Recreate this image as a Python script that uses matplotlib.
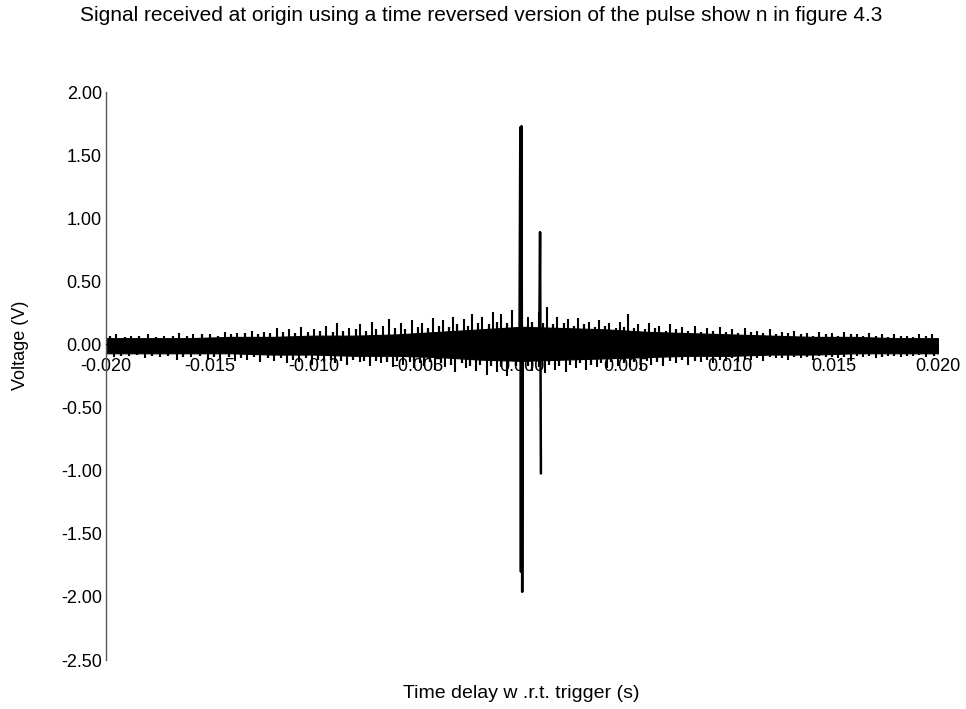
import numpy as np
import matplotlib.pyplot as plt

plt.rcParams['font.family'] = ['Liberation Sans', 'DejaVu Sans']

# dense part of the noise trace (V), sampled every 2 ms
band_t = [-0.020, -0.018, -0.016, -0.014, -0.012, -0.010, -0.008, -0.006, -0.004, -0.002, 0.000,
          0.002, 0.004, 0.006, 0.008, 0.010, 0.012, 0.014, 0.016, 0.018, 0.020]
band_hi = [0.05, 0.05, 0.05, 0.06, 0.06, 0.07, 0.07, 0.08, 0.10, 0.12, 0.14,
           0.13, 0.12, 0.10, 0.09, 0.08, 0.07, 0.06, 0.06, 0.05, 0.05]
band_lo = [-0.07, -0.07, -0.07, -0.07, -0.08, -0.08, -0.09, -0.09, -0.10, -0.12, -0.13,
           -0.12, -0.11, -0.10, -0.09, -0.09, -0.08, -0.08, -0.07, -0.07, -0.07]

# tall noise peaks sticking out of the band
peak_up_t = [-0.0195, -0.0188, -0.0180, -0.0172, -0.0165, -0.0158, -0.0150, -0.0143, -0.0137, -0.0130,
             -0.0124, -0.0118, -0.0112, -0.0106, -0.0100, -0.0094, -0.0089, -0.0083, -0.0078, -0.0072,
             -0.0067, -0.0064, -0.0058, -0.0053, -0.0048, -0.0043, -0.0038, -0.0033, -0.0028, -0.0024,
             -0.0019, -0.0014, -0.0010, -0.0005, 0.0003, 0.0008, 0.0012, 0.0017, 0.0022, 0.0027,
             0.0032, 0.0037, 0.0042, 0.0047, 0.0051, 0.0056, 0.0061, 0.0066, 0.0071, 0.0077,
             0.0083, 0.0089, 0.0095, 0.0101, 0.0107, 0.0113, 0.0119, 0.0125, 0.0131, 0.0137,
             0.0143, 0.0149, 0.0155, 0.0161, 0.0167, 0.0173, 0.0179, 0.0185, 0.0191, 0.0197]
peak_up_v = [0.08, 0.07, 0.08, 0.07, 0.09, 0.08, 0.08, 0.10, 0.09, 0.11,
             0.10, 0.13, 0.12, 0.14, 0.12, 0.15, 0.17, 0.13, 0.16, 0.18,
             0.15, 0.20, 0.17, 0.19, 0.17, 0.21, 0.19, 0.22, 0.20, 0.24,
             0.22, 0.26, 0.24, 0.27, 0.22, 0.26, 0.30, 0.22, 0.20, 0.21,
             0.18, 0.19, 0.17, 0.18, 0.24, 0.16, 0.17, 0.15, 0.16, 0.14,
             0.15, 0.13, 0.14, 0.12, 0.13, 0.11, 0.12, 0.10, 0.11, 0.09,
             0.10, 0.09, 0.10, 0.08, 0.09, 0.08, 0.08, 0.07, 0.08, 0.08]
peak_dn_t = [-0.0196, -0.0189, -0.0181, -0.0174, -0.0166, -0.0159, -0.0151, -0.0145, -0.0138, -0.0132,
             -0.0126, -0.0119, -0.0113, -0.0107, -0.0101, -0.0095, -0.0090, -0.0084, -0.0078, -0.0073,
             -0.0068, -0.0062, -0.0057, -0.0052, -0.0047, -0.0042, -0.0037, -0.0032, -0.0027, -0.0022,
             -0.0017, -0.0012, -0.0007, 0.0005, 0.0011, 0.0016, 0.0021, 0.0026, 0.0031, 0.0036,
             0.0041, 0.0046, 0.0052, 0.0057, 0.0062, 0.0068, 0.0074, 0.0080, 0.0086, 0.0092,
             0.0098, 0.0104, 0.0110, 0.0116, 0.0122, 0.0128, 0.0134, 0.0140, 0.0146, 0.0152,
             0.0158, 0.0164, 0.0170, 0.0176, 0.0182, 0.0188, 0.0194]
peak_dn_v = [-0.10, -0.09, -0.11, -0.10, -0.12, -0.10, -0.12, -0.11, -0.13, -0.12,
             -0.14, -0.13, -0.15, -0.14, -0.16, -0.14, -0.15, -0.16, -0.14, -0.17,
             -0.15, -0.18, -0.16, -0.19, -0.17, -0.20, -0.18, -0.22, -0.19, -0.21,
             -0.24, -0.22, -0.25, -0.21, -0.23, -0.20, -0.22, -0.19, -0.20, -0.18,
             -0.19, -0.17, -0.18, -0.20, -0.16, -0.17, -0.15, -0.16, -0.14, -0.15,
             -0.13, -0.14, -0.12, -0.13, -0.11, -0.12, -0.11, -0.12, -0.10, -0.11,
             -0.13, -0.10, -0.11, -0.09, -0.10, -0.09, -0.10]

# shorter peaks that roughen the edge of the band
ripple_up_t = [-0.0198, -0.0191, -0.0184, -0.0176, -0.0168, -0.0161, -0.0154, -0.0146, -0.0140, -0.0133,
               -0.0127, -0.0121, -0.0115, -0.0109, -0.0103, -0.0097, -0.0091, -0.0086, -0.0080, -0.0075,
               -0.0070, -0.0061, -0.0056, -0.0050, -0.0045, -0.0040, -0.0035, -0.0031, -0.0026, -0.0021,
               -0.0016, -0.0012, -0.0007, 0.0005, 0.0010, 0.0015, 0.0020, 0.0025, 0.0030, 0.0035,
               0.0040, 0.0045, 0.0049, 0.0054, 0.0059, 0.0064, 0.0069, 0.0074, 0.0080, 0.0086,
               0.0092, 0.0098, 0.0104, 0.0110, 0.0116, 0.0122, 0.0128, 0.0134, 0.0140, 0.0146,
               0.0152, 0.0158, 0.0164, 0.0170, 0.0176, 0.0182, 0.0188, 0.0194]
ripple_up_v = [0.07, 0.06, 0.07, 0.06, 0.07, 0.07, 0.08, 0.07, 0.08, 0.09,
               0.08, 0.09, 0.10, 0.09, 0.10, 0.11, 0.10, 0.11, 0.12, 0.11,
               0.12, 0.13, 0.12, 0.14, 0.13, 0.15, 0.14, 0.16, 0.15, 0.17,
               0.16, 0.18, 0.17, 0.18, 0.17, 0.16, 0.17, 0.15, 0.16, 0.14,
               0.15, 0.13, 0.14, 0.13, 0.12, 0.13, 0.11, 0.12, 0.11, 0.10,
               0.11, 0.10, 0.09, 0.10, 0.09, 0.08, 0.09, 0.08, 0.07, 0.08,
               0.07, 0.08, 0.07, 0.07, 0.06, 0.07, 0.06, 0.07]
ripple_dn_t = [-0.0193, -0.0185, -0.0178, -0.0170, -0.0163, -0.0155, -0.0148, -0.0141, -0.0135, -0.0129,
               -0.0122, -0.0116, -0.0110, -0.0104, -0.0098, -0.0092, -0.0087, -0.0081, -0.0076, -0.0070,
               -0.0065, -0.0060, -0.0054, -0.0049, -0.0044, -0.0039, -0.0034, -0.0029, -0.0025, -0.0020,
               -0.0015, -0.0010, -0.0003, 0.0003, 0.0008, 0.0013, 0.0018, 0.0023, 0.0028, 0.0033,
               0.0038, 0.0043, 0.0049, 0.0054, 0.0060, 0.0065, 0.0071, 0.0077, 0.0083, 0.0089,
               0.0095, 0.0101, 0.0107, 0.0113, 0.0119, 0.0125, 0.0131, 0.0137, 0.0143, 0.0149,
               0.0155, 0.0161, 0.0167, 0.0173, 0.0179, 0.0185, 0.0191, 0.0198]
ripple_dn_v = [-0.09, -0.08, -0.09, -0.09, -0.10, -0.09, -0.10, -0.10, -0.11, -0.10,
               -0.11, -0.11, -0.12, -0.11, -0.12, -0.12, -0.13, -0.12, -0.13, -0.13,
               -0.14, -0.13, -0.14, -0.15, -0.14, -0.15, -0.16, -0.15, -0.17, -0.16,
               -0.17, -0.18, -0.17, -0.17, -0.18, -0.16, -0.17, -0.16, -0.15, -0.16,
               -0.15, -0.14, -0.15, -0.14, -0.13, -0.14, -0.13, -0.12, -0.13, -0.12,
               -0.12, -0.11, -0.12, -0.11, -0.10, -0.11, -0.10, -0.10, -0.09, -0.10,
               -0.10, -0.09, -0.09, -0.10, -0.09, -0.09, -0.08, -0.09]

# refocused pulse around t = 0
pulse_t = [-0.00012, -0.00008, -0.00005, -0.00002, 0.00001, 0.00004, 0.00083, 0.00087, 0.00091]
pulse_v = [0.00, 1.72, -1.80, 1.73, -1.96, 0.00, 0.00, 0.89, -1.02]

fig = plt.figure(figsize=(9.66, 7.09), dpi=100)
ax = fig.add_axes([0.1097, 0.0691, 0.8613, 0.8011])

ax.fill_between(band_t, band_lo, band_hi, color='black', linewidth=0.8)
ax.vlines(ripple_up_t, 0, ripple_up_v, color='black', linewidth=1.6)
ax.vlines(ripple_dn_t, 0, ripple_dn_v, color='black', linewidth=1.6)
ax.vlines(peak_up_t, 0, peak_up_v, color='black', linewidth=1.5)
ax.vlines(peak_dn_t, 0, peak_dn_v, color='black', linewidth=1.5)
ax.plot(pulse_t, pulse_v, color='black', linewidth=1.8)

ax.set_xlim(-0.020, 0.020)
ax.set_ylim(-2.5, 2.0)
ax.set_xticks(np.arange(-0.020, 0.0201, 0.005))
ax.set_yticks(np.arange(-2.5, 2.01, 0.5))
ax.xaxis.set_major_formatter(plt.FormatStrFormatter('%.3f'))
ax.yaxis.set_major_formatter(plt.FormatStrFormatter('%.2f'))
ax.tick_params(axis='both', length=0, labelsize=13)
ax.tick_params(axis='x', pad=10)
ax.tick_params(axis='y', pad=3)

for s in ['top', 'right']:
    ax.spines[s].set_visible(False)
ax.spines['bottom'].set_position(('data', 0))
ax.spines['bottom'].set_color('black')
ax.spines['left'].set_color('#555555')
ax.spines['left'].set_linewidth(1.0)

fig.text(0.498, 0.992, 'Signal received at origin using a time reversed version of the pulse show n in figure 4.3',
         ha='center', va='top', fontsize=15)
fig.text(0.540, 0.022, 'Time delay w .r.t. trigger (s)', ha='center', va='center', fontsize=14)
fig.text(0.021, 0.513, 'Voltage (V)', ha='center', va='center', rotation=90, fontsize=13)

fig.savefig('out.png', dpi=100)
